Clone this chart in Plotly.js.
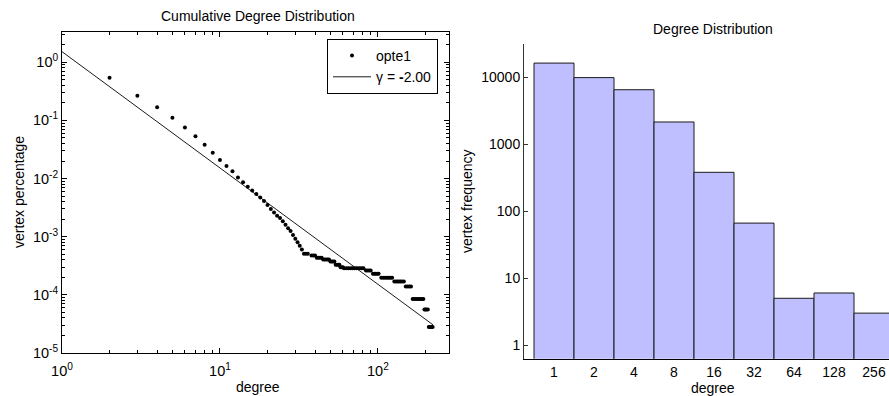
<!DOCTYPE html>
<html>
<head>
<meta charset="utf-8">
<script src="https://cdn.plot.ly/plotly-3.0.1.min.js"></script>
<style>html,body{margin:0;padding:0;background:#fff;}#chart{width:889px;height:396px;}</style>
</head>
<body>
<div id="chart"></div>
<script>
// ---- Cumulative degree distribution (left) ----
var cumDegree = [2,3,4,5,6,7,8,9,10,11,12,13,14,15,16,17,18,19,20,21,22,23,24,25,26,27,28,29,30,31,32,33,
  34,35,36, 38,39,40, 41,42,43,44, 45,46,47,48,49, 50,51,52,53, 54,55,56,57, 58,59,60,
  61,63,65,67,69,71,73,75,77,79,81, 84,86,88,90, 93,95,97,99,101,
  105,108,111,114,117,120,123, 127,130,133,136,139,142,146, 150,154,158,162,
  166,170,174,178,182,186,190,194, 197,200,203,207, 210,214,218,222];
var cumPct = [0.54,0.265,0.168,0.111,0.0757,0.0536,0.038,0.0277,0.0209,0.0165,0.0133,0.0104,0.0086,0.0072,0.0062,0.0054,0.0047,0.0041,0.0035,0.0030,0.0026,0.0023,0.0021,0.00185,0.0016,0.0014,0.00125,0.00107,0.00092,0.0008,0.0007,0.0006,
  5.1e-4,5.1e-4,5.1e-4, 4.76e-4,4.76e-4,4.76e-4, 4.35e-4,4.35e-4,4.35e-4,4.35e-4, 4.07e-4,4.07e-4,4.07e-4,4.07e-4,4.07e-4,
  3.75e-4,3.75e-4,3.75e-4,3.75e-4, 3.29e-4,3.29e-4,3.29e-4,3.29e-4, 2.99e-4,2.99e-4,2.99e-4,
  2.88e-4,2.88e-4,2.88e-4,2.88e-4,2.88e-4,2.88e-4,2.88e-4,2.88e-4,2.88e-4,2.88e-4,2.88e-4,
  2.62e-4,2.62e-4,2.62e-4,2.62e-4, 2.3e-4,2.3e-4,2.3e-4,2.3e-4,2.3e-4,
  1.96e-4,1.96e-4,1.96e-4,1.96e-4,1.96e-4,1.96e-4,1.96e-4,
  1.7e-4,1.7e-4,1.7e-4,1.7e-4,1.7e-4,1.7e-4,1.7e-4,
  1.39e-4,1.39e-4,1.39e-4,1.39e-4,
  8.5e-5,8.5e-5,8.5e-5,8.5e-5,8.5e-5,8.5e-5,8.5e-5,8.5e-5,
  5.6e-5,5.6e-5,5.6e-5,5.6e-5, 2.8e-5,2.8e-5,2.8e-5,2.8e-5];
var fitDegree = [1, 224];
var fitPct = [1.52, 3.03e-5];

var cumXTickVals = [1, 10, 100];
var cumXTickText = ['10<sup>0</sup>', '10<sup>1</sup>', '10<sup>2</sup>'];
var cumYTickVals = [1e-5, 1e-4, 1e-3, 1e-2, 1e-1, 1];
var cumYTickText = ['10<sup>-5</sup>', '10<sup>-4</sup>', '10<sup>-3</sup>', '10<sup>-2</sup>', '10<sup>-1</sup>', '10<sup>0</sup>'];

// ---- Degree distribution histogram (right) ----
var histBins = ['1', '2', '4', '8', '16', '32', '64', '128', '256'];
var histFreq = [16400, 9950, 6550, 2160, 382, 66.5, 5, 6, 3];
var histYTickVals = [1, 10, 100, 1000, 10000];
var histYTickText = ['1', '10', '100', '1000', '10000'];

var FONT = 'Liberation Sans, Arial, Helvetica, sans-serif';

var traces = [
  {
    x: cumDegree, y: cumPct, type: 'scatter', mode: 'markers', name: 'opte1',
    marker: {color: '#000', size: 4, line: {width: 0}},
    xaxis: 'x', yaxis: 'y'
  },
  {
    x: fitDegree, y: fitPct, type: 'scatter', mode: 'lines', name: 'γ = <b>-</b>2.00',
    line: {color: '#000', width: 0.9},
    xaxis: 'x', yaxis: 'y'
  },
  {
    x: histBins, y: histFreq, type: 'bar', showlegend: false,
    marker: {color: 'rgb(191,191,255)', line: {color: '#1a1a1a', width: 1}},
    width: 1,
    xaxis: 'x2', yaxis: 'y2'
  }
];

var layout = {
  width: 889, height: 396,
  margin: {l: 0, r: 0, t: 0, b: 0},
  paper_bgcolor: '#fff', plot_bgcolor: '#fff',
  font: {family: FONT, size: 14, color: '#000'},
  showlegend: true,
  legend: {
    x: 327/889, y: 1 - 39/396, xanchor: 'left', yanchor: 'top',
    bordercolor: '#000', borderwidth: 1, bgcolor: '#fff',
    font: {family: FONT, size: 14, color: '#000'},
    itemwidth: 38, tracegroupgap: 0
  },
  bargap: 0,
  xaxis: {
    domain: [62/889, 449/889], anchor: 'y',
    type: 'log', range: [0, 2.45],
    showline: true, linecolor: '#000', linewidth: 1, mirror: 'ticks',
    ticks: 'inside', ticklen: 5, tickcolor: '#000',
    tickvals: cumXTickVals, ticktext: cumXTickText,
    ticklabelstandoff: 5,
    minor: {ticks: 'inside', ticklen: 3, tickcolor: '#000', showgrid: false, dtick: 'D1'},
    showgrid: false, zeroline: false,
    tickfont: {family: FONT, size: 14.5, color: '#000'}
  },
  yaxis: {
    domain: [43/396, 364/396], anchor: 'x',
    type: 'log', range: [-5, 0.52],
    showline: true, linecolor: '#000', linewidth: 1, mirror: 'ticks',
    ticks: 'inside', ticklen: 5, tickcolor: '#000',
    tickvals: cumYTickVals, ticktext: cumYTickText,
    minor: {ticks: 'inside', ticklen: 3, tickcolor: '#000', showgrid: false, dtick: 'D1'},
    showgrid: false, zeroline: false,
    tickfont: {family: FONT, size: 14.5, color: '#000'}
  },
  xaxis2: {
    domain: [524/889, 1], anchor: 'y2',
    type: 'category', range: [-0.75, 8.375],
    showline: true, linecolor: '#000', linewidth: 1,
    ticks: '', showgrid: false, zeroline: false,
    tickfont: {family: FONT, size: 14, color: '#000'}
  },
  yaxis2: {
    domain: [37.3/396, 352/396], anchor: 'x2',
    type: 'log', range: [-0.204, 4.50],
    showline: true, linecolor: '#333', linewidth: 1,
    ticks: 'inside', ticklen: 4, tickcolor: '#333',
    tickvals: histYTickVals, ticktext: histYTickText,
    showgrid: false, zeroline: false,
    tickfont: {family: FONT, size: 14, color: '#000'}
  },
  annotations: [
    {text: 'Cumulative Degree Distribution', xref: 'paper', yref: 'paper', x: 257.5/889, y: 1 - 16/396, xanchor: 'center', yanchor: 'middle', showarrow: false, font: {family: FONT, size: 14}},
    {text: 'degree', xref: 'paper', yref: 'paper', x: 257.5/889, y: 1 - 387/396, xanchor: 'center', yanchor: 'middle', showarrow: false, font: {family: FONT, size: 14}},
    {text: 'vertex percentage', xref: 'paper', yref: 'paper', x: 19/889, y: 1 - 192/396, xanchor: 'center', yanchor: 'middle', textangle: -90, showarrow: false, font: {family: FONT, size: 14}},
    {text: 'Degree Distribution', xref: 'paper', yref: 'paper', x: 713/889, y: 1 - 29/396, xanchor: 'center', yanchor: 'middle', showarrow: false, font: {family: FONT, size: 14}},
    {text: 'degree', xref: 'paper', yref: 'paper', x: 713/889, y: 1 - 388/396, xanchor: 'center', yanchor: 'middle', showarrow: false, font: {family: FONT, size: 14}},
    {text: 'vertex frequency', xref: 'paper', yref: 'paper', x: 467/889, y: 1 - 201/396, xanchor: 'center', yanchor: 'middle', textangle: -90, showarrow: false, font: {family: FONT, size: 14}}
  ]
};

Plotly.newPlot('chart', traces, layout, {staticPlot: true, displayModeBar: false});
</script>
</body>
</html>
